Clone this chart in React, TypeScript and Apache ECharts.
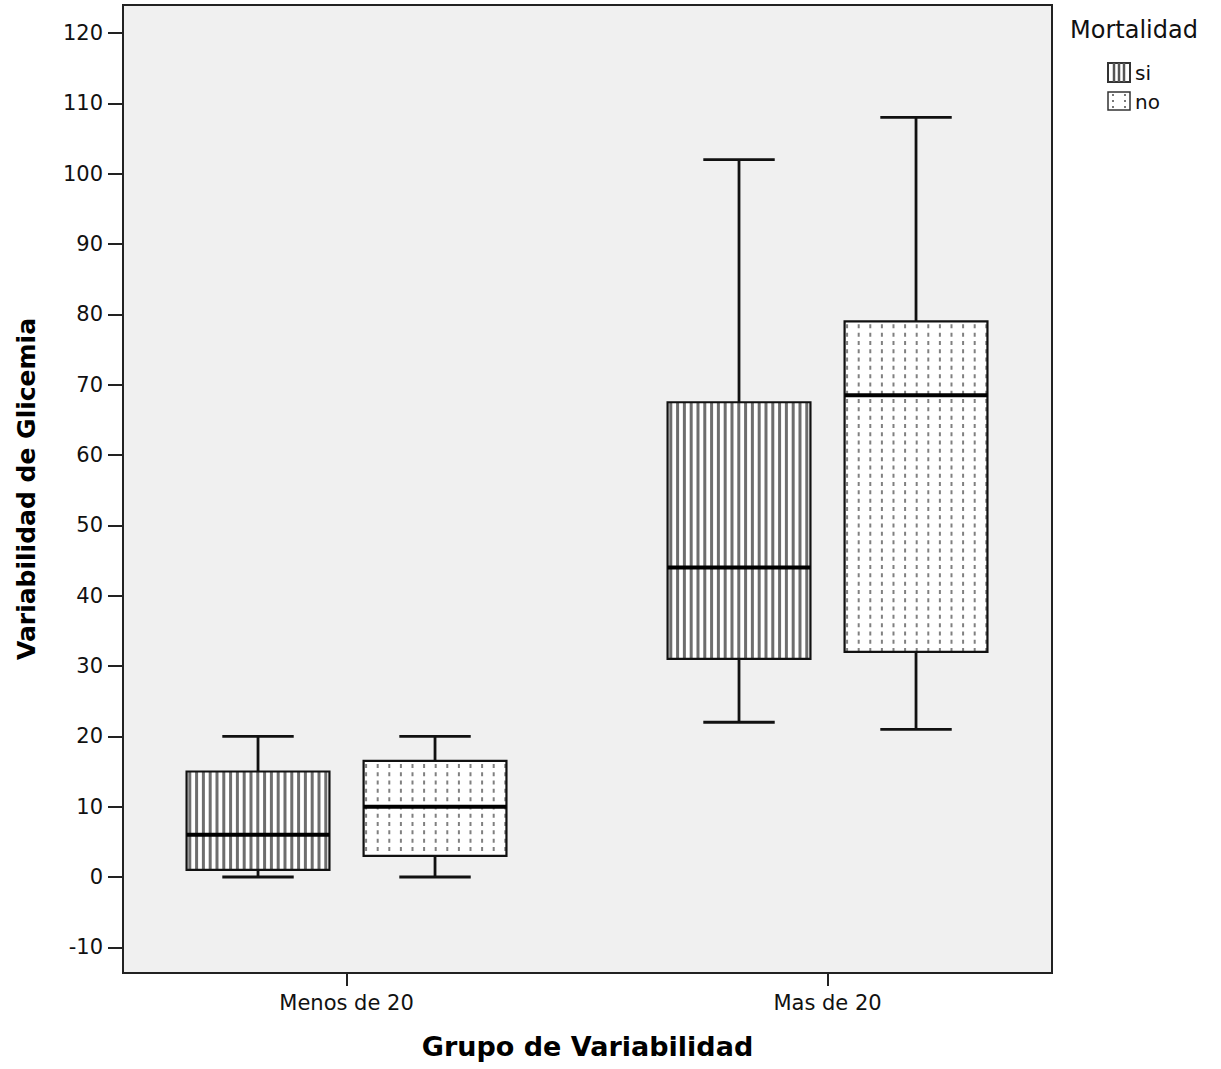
import React, { useEffect, useRef } from "react";
import * as echarts from "echarts";

const categories = ["Menos de 20", "Mas de 20"];
const groupNames = ["si", "no"];
// [min, Q1, median, Q3, max]
const siValues = [
  [0, 1, 6, 15, 20],
  [22, 31, 44, 67.5, 102],
];
const noValues = [
  [0, 3, 10, 16.5, 20],
  [21, 32, 68.5, 79, 108],
];
const yTicks = [-10, 0, 10, 20, 30, 40, 50, 60, 70, 80, 90, 100, 110, 120];
const xTicks = [0, 1];

const FONT = "DejaVu Sans";
const BOX_W = 0.297;
const OFFSET = 0.184;

function makeRenderItem(offset: number, kind: "stripe" | "dot") {
  return (params: any, api: any) => {
    const xi = api.value(0);
    const unit = api.size([1, 0])[0];
    const cx = api.coord([xi + offset, 0])[0];
    const half = (unit * BOX_W) / 2;
    const capHalf = half / 2;
    const yMin = api.coord([xi, api.value(1)])[1];
    const yQ1 = api.coord([xi, api.value(2)])[1];
    const yMed = api.coord([xi, api.value(3)])[1];
    const yQ3 = api.coord([xi, api.value(4)])[1];
    const yMax = api.coord([xi, api.value(5)])[1];
    const x0 = cx - half;
    const x1 = cx + half;
    const lineStyle = { stroke: "#111", lineWidth: 2.8 };
    const children: any[] = [];
    children.push({ type: "line", shape: { x1: cx, y1: yQ3, x2: cx, y2: yMax }, style: lineStyle });
    children.push({ type: "line", shape: { x1: cx - capHalf, y1: yMax, x2: cx + capHalf, y2: yMax }, style: lineStyle });
    children.push({ type: "line", shape: { x1: cx, y1: yQ1, x2: cx, y2: yMin }, style: lineStyle });
    children.push({ type: "line", shape: { x1: cx - capHalf, y1: yMin, x2: cx + capHalf, y2: yMin }, style: lineStyle });
    children.push({ type: "rect", shape: { x: x0, y: yQ3, width: x1 - x0, height: yQ1 - yQ3 }, style: { fill: "#ffffff" } });
    if (kind === "stripe") {
      for (let x = x0 + 3.2; x < x1 - 1.5; x += 6.8) {
        children.push({ type: "line", shape: { x1: x, y1: yQ3, x2: x, y2: yQ1 }, style: { stroke: "#6e6e6e", lineWidth: 3 } });
      }
    } else {
      for (let x = x0 + 2.5; x < x1 - 1; x += 11.6) {
        children.push({
          type: "line",
          shape: { x1: x, y1: yQ3 + 3, x2: x, y2: yQ1 },
          style: { stroke: "#808080", lineWidth: 2, lineDash: [4, 4.3] },
        });
      }
    }
    children.push({ type: "rect", shape: { x: x0, y: yQ3, width: x1 - x0, height: yQ1 - yQ3 }, style: { fill: "none", stroke: "#111", lineWidth: 2.2 } });
    children.push({ type: "line", shape: { x1: x0, y1: yMed, x2: x1, y2: yMed }, style: { stroke: "#000", lineWidth: 4 } });
    return { type: "group", children };
  };
}

export default function App() {
  const ref = useRef<HTMLDivElement>(null);
  useEffect(() => {
    if (!ref.current) return;
    const chart = echarts.init(ref.current, undefined, { renderer: "svg" });
    const legendX = 1108;
    const option: any = {
      animation: false,
      backgroundColor: "#ffffff",
      grid: {
        left: 123,
        right: 169,
        top: 5,
        bottom: 96,
        show: true,
        backgroundColor: "#f0f0f0",
        borderColor: "#222",
        borderWidth: 2,
      },
      xAxis: {
        type: "value",
        min: -0.4647,
        max: 1.4667,
        axisLine: { show: true, onZero: false, lineStyle: { color: "#222", width: 2 } },
        splitLine: { show: false },
        axisTick: { show: true, customValues: xTicks, length: 13, lineStyle: { color: "#222", width: 2 } },
        axisLabel: {
          customValues: xTicks,
          formatter: (v: number) => categories[Math.round(v)] ?? "",
          fontFamily: FONT,
          fontSize: 21,
          color: "#111",
          margin: 19,
        },
        name: "Grupo de Variabilidad",
        nameLocation: "middle",
        nameGap: 60,
        nameTextStyle: { fontFamily: FONT, fontSize: 27, fontWeight: "bold", color: "#000" },
      },
      yAxis: {
        type: "value",
        min: -13.65,
        max: 123.98,
        axisLine: { show: true, onZero: false, lineStyle: { color: "#222", width: 2 } },
        splitLine: { show: false },
        axisTick: { show: true, customValues: yTicks, length: 15, lineStyle: { color: "#222", width: 2 } },
        axisLabel: {
          customValues: yTicks,
          fontFamily: FONT,
          fontSize: 21,
          color: "#111",
          margin: 20,
        },
        name: "Variabilidad de Glicemia",
        nameLocation: "middle",
        nameGap: 84,
        nameTextStyle: { fontFamily: FONT, fontSize: 25, fontWeight: "bold", color: "#000" },
      },
      series: [
        {
          type: "custom",
          name: groupNames[0],
          renderItem: makeRenderItem(-OFFSET, "stripe"),
          encode: { x: 0, y: [1, 2, 3, 4, 5] },
          data: siValues.map((v, i) => [i, ...v]),
        },
        {
          type: "custom",
          name: groupNames[1],
          renderItem: makeRenderItem(OFFSET, "dot"),
          encode: { x: 0, y: [1, 2, 3, 4, 5] },
          data: noValues.map((v, i) => [i, ...v]),
        },
      ],
      graphic: [
        {
          type: "text",
          left: 1070,
          top: 18,
          style: { text: "Mortalidad", fontFamily: FONT, fontSize: 24, fill: "#111" },
        },
        {
          type: "group",
          children: [
            { type: "rect", shape: { x: legendX, y: 63, width: 22, height: 19 }, style: { fill: "#fff", stroke: "#333", lineWidth: 2 } },
            { type: "line", shape: { x1: legendX + 6, y1: 63, x2: legendX + 6, y2: 82 }, style: { stroke: "#555", lineWidth: 2.5 } },
            { type: "line", shape: { x1: legendX + 11, y1: 63, x2: legendX + 11, y2: 82 }, style: { stroke: "#555", lineWidth: 2.5 } },
            { type: "line", shape: { x1: legendX + 16, y1: 63, x2: legendX + 16, y2: 82 }, style: { stroke: "#555", lineWidth: 2.5 } },
            { type: "text", x: legendX + 27, y: 73, style: { text: groupNames[0], fontFamily: FONT, fontSize: 20, fill: "#111", verticalAlign: "middle" } },
            { type: "rect", shape: { x: legendX, y: 92, width: 22, height: 18 }, style: { fill: "#fff", stroke: "#333", lineWidth: 1.5 } },
            { type: "line", shape: { x1: legendX + 5, y1: 94, x2: legendX + 5, y2: 109 }, style: { stroke: "#777", lineWidth: 2, lineDash: [2, 4] } },
            { type: "line", shape: { x1: legendX + 17, y1: 94, x2: legendX + 17, y2: 109 }, style: { stroke: "#777", lineWidth: 2, lineDash: [2, 4] } },
            { type: "text", x: legendX + 27, y: 102, style: { text: groupNames[1], fontFamily: FONT, fontSize: 20, fill: "#111", verticalAlign: "middle" } },
          ],
        },
      ],
    };
    chart.setOption(option);
    return () => chart.dispose();
  }, []);
  return <div ref={ref} style={{ width: 1221, height: 1069, position: "absolute", left: 0, top: 0 }} />;
}
